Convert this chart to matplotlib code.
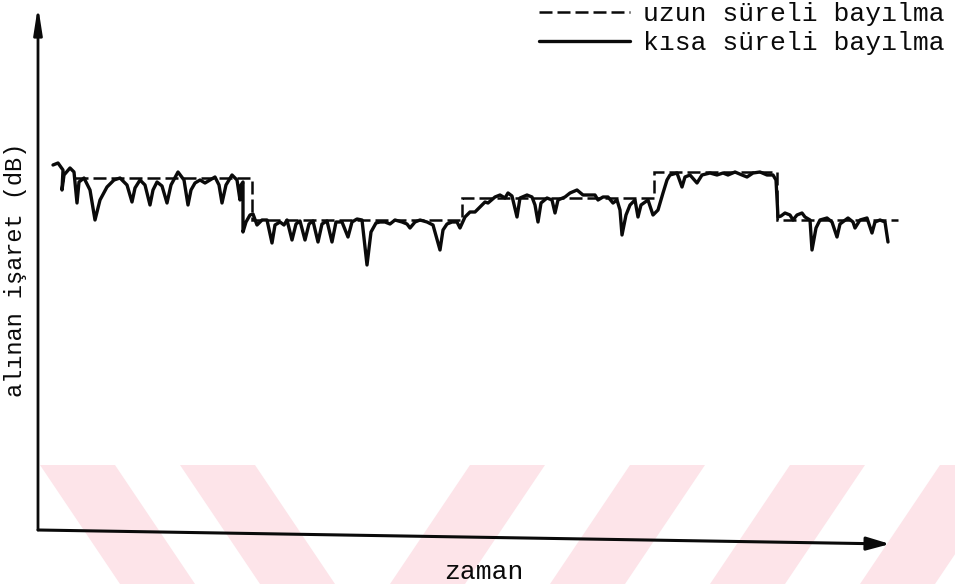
import numpy as np
import matplotlib.pyplot as plt
from matplotlib.patches import Polygon

# ---------------- data ----------------
# short-term fading (received signal level vs time)
t_short = [1.5, 2.0, 2.5, 2.4, 2.6, 3.2, 3.6, 3.9, 4.1, 4.6, 5.2, 5.7, 6.2, 6.9, 7.6, 8.2,
           8.9, 9.4, 9.7, 10.2, 10.7, 11.2, 11.5, 11.9, 12.4, 12.9, 13.3, 14.0, 14.6, 15.0,
           15.3, 15.7, 16.2, 16.7, 17.2, 17.7, 18.1, 18.4, 18.8, 19.4, 19.9, 20.2, 20.3,
           20.5, 20.5, 20.8, 21.2, 21.5, 21.9, 22.4, 22.9, 23.4, 23.7, 24.2, 24.6, 24.9,
           25.4, 25.8, 26.2, 26.7, 27.1, 27.5, 28.0, 28.4, 28.9, 29.4, 29.8, 30.4, 31.0,
           31.4, 31.9, 32.4, 32.9, 33.3, 33.8, 34.2, 34.7, 35.2, 35.7, 36.4, 36.9, 37.2,
           37.7, 38.2, 38.9, 39.5, 40.2, 40.5, 40.9, 41.4, 41.9, 42.2, 42.7, 43.2, 43.7,
           44.2, 44.7, 45.0, 45.7, 46.2, 46.7, 47.0, 47.4, 47.9, 48.2, 48.9, 49.4, 49.7,
           50.0, 50.3, 50.9, 51.4, 51.7, 52.0, 52.7, 53.2, 53.9, 54.5, 55.0, 55.7, 56.0,
           56.5, 57.0, 57.5, 57.9, 58.2, 58.4, 58.8, 59.2, 59.7, 60.0, 60.3, 61.0, 61.5,
           62.0, 62.5, 62.9, 63.2, 63.9, 64.4, 64.7, 65.2, 65.9, 66.4, 67.2, 67.9, 68.5,
           69.0, 69.7, 70.4, 70.9, 71.5, 72.2, 72.9, 73.5, 73.8, 74.0, 74.3, 74.7, 75.2,
           75.5, 75.9, 76.4, 76.7, 77.2, 77.4, 77.8, 78.2, 78.9, 79.4, 79.9, 80.2, 81.0,
           81.5, 81.7, 82.2, 82.9, 83.4, 83.7, 84.2, 84.7, 85.0]
s_short = [36.5, 36.7, 36.0, 34.0, 35.5, 36.2, 35.8, 32.7, 34.8, 35.2, 34.0, 31.0, 33.0, 34.3,
           35.0, 35.2, 34.5, 32.8, 34.2, 35.0, 34.5, 32.5, 34.0, 34.8, 34.4, 32.7, 34.5,
           35.8, 35.0, 32.5, 34.0, 34.7, 35.0, 34.7, 35.0, 35.3, 34.5, 32.7, 34.5, 35.5,
           35.0, 33.0, 34.5, 34.8, 29.8, 30.8, 31.5, 31.6, 30.5, 31.0, 31.0, 28.7, 30.5,
           30.8, 30.5, 31.0, 29.0, 30.6, 30.9, 29.0, 30.6, 30.9, 28.8, 30.6, 30.9, 28.8,
           30.8, 30.8, 29.3, 30.8, 31.1, 31.0, 26.5, 29.8, 30.7, 30.8, 30.8, 30.6, 31.0,
           30.8, 30.6, 30.2, 30.8, 31.0, 30.8, 30.5, 28.0, 30.0, 30.6, 30.8, 30.8, 30.2,
           31.3, 31.8, 31.8, 32.3, 32.8, 32.7, 33.3, 33.5, 33.2, 33.7, 33.4, 31.3, 33.2,
           33.5, 33.3, 32.5, 30.8, 32.7, 33.2, 33.0, 31.7, 33.0, 33.3, 33.7, 34.0, 33.5,
           33.5, 33.5, 33.0, 33.3, 33.3, 32.7, 33.0, 32.0, 29.5, 31.5, 32.5, 33.0, 31.3,
           32.5, 33.0, 31.5, 32.0, 33.7, 35.0, 35.5, 35.7, 34.3, 35.3, 35.5, 34.7, 35.5,
           35.7, 35.5, 35.7, 35.5, 35.8, 35.5, 35.3, 35.7, 35.8, 35.5, 35.5, 35.0, 31.3,
           31.4, 31.7, 31.5, 31.0, 31.5, 31.7, 31.3, 31.0, 28.0, 30.2, 31.0, 31.2, 30.8,
           29.3, 30.6, 31.2, 30.8, 30.2, 31.0, 31.2, 29.7, 30.8, 31.0, 30.8, 28.8]

# long-term fading: mean level over each interval
edges_long = [3.7, 21.4, 42.4, 61.6, 73.9, 86.0]
level_long = [35.2, 31.0, 33.2, 35.8, 31.0]

label_long = "uzun süreli bayılma"
label_short = "kısa süreli bayılma"
xlabel = "zaman"
ylabel = "alınan işaret (dB)"

# ---------------- figure ----------------
plt.rcParams['font.family'] = ['Liberation Mono', 'DejaVu Sans Mono']
ink = '#0a0a0a'

fig = plt.figure(figsize=(9.55, 5.84), dpi=100)

# pink band along the bottom of the page
stripe_bg = fig.add_axes([0, 0, 1, 1], zorder=0)
stripe_bg.set_xlim(0, 955)
stripe_bg.set_ylim(584, 0)
stripe_bg.axis('off')
stripes = [
    [(40, 465), (115, 465), (195, 584), (120, 584)],
    [(180, 465), (255, 465), (335, 584), (260, 584)],
    [(470, 465), (545, 465), (465, 584), (390, 584)],
    [(630, 465), (705, 465), (625, 584), (550, 584)],
    [(790, 465), (865, 465), (785, 584), (710, 584)],
    [(940, 465), (1015, 465), (935, 584), (860, 584)],
]
for pts in stripes:
    stripe_bg.add_patch(Polygon(pts, closed=True, color='#fde4e9', lw=0))

ax = fig.add_axes([38 / 955, 54 / 584, 872 / 955, 522 / 584], zorder=1)
ax.patch.set_alpha(0)
ax.set_xlim(0, 87.2)
ax.set_ylim(0, 52.2)
for sp in ax.spines.values():
    sp.set_visible(False)
ax.set_xticks([])
ax.set_yticks([])

l_long = ax.stairs(level_long, edges_long, baseline=None, color=ink, lw=1.8,
                   linestyle=(0, (5.2, 2.0)), label=label_long)
l_short, = ax.plot(t_short, s_short, color=ink, lw=2.4, solid_joinstyle='round',
                   solid_capstyle='round', label=label_short)

# axis arrows
y_arrow = dict(arrowstyle='-|>,head_length=1.6,head_width=0.25', color=ink, lw=2.0,
               shrinkA=0, shrinkB=0)
x_arrow = dict(arrowstyle='-|>,head_length=1.4,head_width=0.4', color=ink, lw=2.2,
               shrinkA=0, shrinkB=0)
ax.annotate('', xy=(0, 52.4), xytext=(0, 0), arrowprops=y_arrow, annotation_clip=False)
ax.annotate('', xy=(85.2, -1.4), xytext=(0, 0), arrowprops=x_arrow, annotation_clip=False)

fig.text(484 / 955, 1 - 572 / 584, xlabel, ha='center', va='center', fontsize=19, color=ink)
fig.text(16 / 955, 1 - 270 / 584, ylabel, ha='center', va='center', rotation=90,
         fontsize=17, color=ink)

fig.legend(handles=[l_long, l_short], loc='upper left', bbox_to_anchor=(539 / 955, 1 - 2 / 584),
           frameon=False, fontsize=19, handlelength=3.45, handletextpad=0.5,
           labelspacing=0.2, borderpad=0, borderaxespad=0, labelcolor=ink)

fig.savefig('out.png', dpi=100)
